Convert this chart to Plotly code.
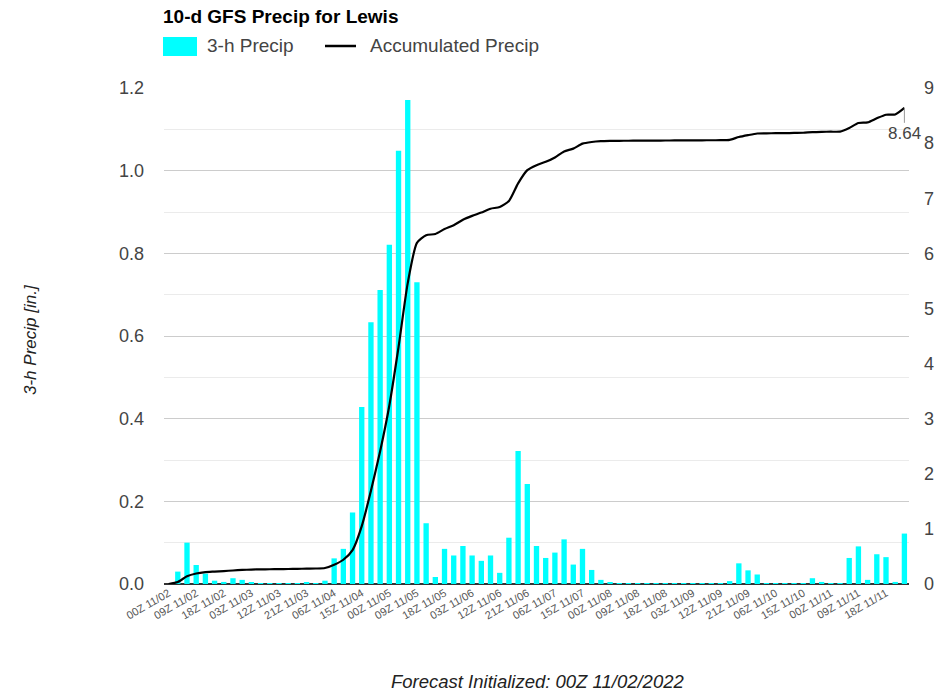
import plotly.graph_objects as go

# ---------------- data ----------------
CATEGORIES = [f"{(3 * k) % 24:02d}Z 11/{2 + (3 * k) // 24:02d}" for k in range(81)]

TICK_LABELS = ["00Z 11/02", "09Z 11/02", "18Z 11/02", "03Z 11/03", "12Z 11/03", "21Z 11/03",
               "06Z 11/04", "15Z 11/04", "00Z 11/05", "09Z 11/05", "18Z 11/05", "03Z 11/06",
               "12Z 11/06", "21Z 11/06", "06Z 11/07", "15Z 11/07", "00Z 11/08", "09Z 11/08",
               "18Z 11/08", "03Z 11/09", "12Z 11/09", "21Z 11/09", "06Z 11/10", "15Z 11/10",
               "00Z 11/11", "09Z 11/11", "18Z 11/11"]

PRECIP_3H = [0.000, 0.030, 0.100, 0.046, 0.025, 0.008, 0.005, 0.014, 0.010, 0.004,
             0.002, 0.001, 0.001, 0.001, 0.002, 0.004, 0.001, 0.008, 0.062, 0.085,
             0.173, 0.428, 0.633, 0.711, 0.821, 1.048, 1.171, 0.730, 0.147, 0.017,
             0.085, 0.069, 0.092, 0.069, 0.056, 0.069, 0.027, 0.112, 0.322, 0.242,
             0.092, 0.063, 0.076, 0.108, 0.047, 0.085, 0.034, 0.010, 0.004, 0.001,
             0.001, 0.001, 0.001, 0.001, 0.001, 0.001, 0.001, 0.001, 0.001, 0.001,
             0.001, 0.007, 0.050, 0.033, 0.023, 0.002, 0.001, 0.001, 0.001, 0.002,
             0.014, 0.005, 0.001, 0.001, 0.063, 0.091, 0.010, 0.072, 0.065, 0.005,
             0.122]

ACCUM_PRECIP = [0.000, 0.035, 0.140, 0.190, 0.215, 0.225, 0.235, 0.245, 0.255, 0.262,
                0.266, 0.268, 0.270, 0.272, 0.275, 0.279, 0.281, 0.290, 0.350, 0.440,
                0.615, 1.050, 1.690, 2.410, 3.240, 4.300, 5.460, 6.190, 6.330, 6.350,
                6.440, 6.510, 6.610, 6.680, 6.740, 6.810, 6.840, 6.950, 7.270, 7.510,
                7.600, 7.660, 7.740, 7.850, 7.900, 7.990, 8.020, 8.035, 8.040, 8.042,
                8.043, 8.044, 8.045, 8.046, 8.047, 8.048, 8.049, 8.050, 8.051, 8.052,
                8.053, 8.060, 8.110, 8.145, 8.175, 8.178, 8.180, 8.182, 8.184, 8.188,
                8.200, 8.205, 8.207, 8.209, 8.275, 8.365, 8.375, 8.450, 8.515, 8.520,
                8.640]

FINAL_LABEL = "8.64"

# ---------------- layout helpers ----------------
W, H = 941, 692
L, R, T, B = 164, 32, 88, 108
PW, PH = W - L - R, H - T - B
FONT = "Liberation Sans, Arial, sans-serif"
TXT = "#444444"


def px_x(px):
    return (px - L) / PW


def px_y(py):
    return (H - B - py) / PH


fig = go.Figure()
fig.add_trace(go.Bar(x=CATEGORIES, y=PRECIP_3H, name="3-h Precip",
                     marker=dict(color="#00FFFF", line=dict(width=0)),
                     yaxis="y", showlegend=False))
fig.add_trace(go.Scatter(x=CATEGORIES, y=ACCUM_PRECIP, name="Accumulated Precip",
                         mode="lines", line=dict(color="#000000", width=2.2, shape="spline", smoothing=0.6),
                         yaxis="y2", showlegend=False))

annotations = [
    # final value label
    dict(x=CATEGORIES[-1], y=ACCUM_PRECIP[-1], xref="x", yref="y2", text=FINAL_LABEL,
         showarrow=True, arrowhead=0, arrowwidth=1, arrowcolor="#999999", ax=0, ay=26,
         standoff=0, font=dict(family=FONT, size=17, color=TXT)),
    # legend texts
    dict(x=px_x(205), y=px_y(46), xref="paper", yref="paper", xanchor="left", yanchor="middle",
         text="3-h Precip", showarrow=False, font=dict(family=FONT, size=19, color=TXT)),
    dict(x=px_x(368), y=px_y(46), xref="paper", yref="paper", xanchor="left", yanchor="middle",
         text="Accumulated Precip", showarrow=False, font=dict(family=FONT, size=19, color=TXT)),
    # axis titles
    dict(x=px_x(30), y=px_y(340), xref="paper", yref="paper", xanchor="center", yanchor="middle",
         text="<i>3-h Precip [in.]</i>", textangle=-90, showarrow=False,
         font=dict(family=FONT, size=17, color="#222222")),
    dict(x=px_x(537), y=px_y(681), xref="paper", yref="paper", xanchor="center", yanchor="middle",
         text="<i>Forecast Initialized: 00Z 11/02/2022</i>", showarrow=False,
         font=dict(family=FONT, size=18.5, color="#222222")),
]

shapes = [
    dict(type="rect", xref="paper", yref="paper", x0=px_x(163), x1=px_x(197),
         y0=px_y(56), y1=px_y(37), fillcolor="#00FFFF", line=dict(width=0)),
    dict(type="line", xref="paper", yref="paper", x0=px_x(325), x1=px_x(356),
         y0=px_y(46), y1=px_y(46), line=dict(color="#000000", width=2.5)),
]

fig.update_layout(
    width=W, height=H,
    margin=dict(l=L, r=R, t=T, b=B, autoexpand=False),
    paper_bgcolor="white", plot_bgcolor="white",
    bargap=0.42,
    title=dict(text="<b>10-d GFS Precip for Lewis</b>", x=163 / W, xref="container", xanchor="left",
               y=1 - 16 / H, yref="container", yanchor="middle",
               font=dict(family=FONT, size=19, color="#000000")),
    xaxis=dict(type="category", categoryorder="array", categoryarray=CATEGORIES,
               tickmode="array", tickvals=TICK_LABELS, ticktext=TICK_LABELS,
               tickangle=-30, tickfont=dict(family=FONT, size=11, color="#555555"),
               showgrid=False, showline=False, ticks="", automargin=False,
               range=[-0.5, 80.5]),
    yaxis=dict(range=[0, 1.2], dtick=0.2, tickformat=".1f", showgrid=True, gridcolor="#cccccc",
               gridwidth=1, zeroline=True, zerolinecolor="#333333", zerolinewidth=1.5,
               minor=dict(dtick=0.1, showgrid=True, gridcolor="#ebebeb", gridwidth=1),
               tickfont=dict(family=FONT, size=18, color=TXT), ticks="", ticklabelstandoff=19,
               automargin=False, showline=False),
    yaxis2=dict(range=[0, 9], dtick=1, overlaying="y", side="right", showgrid=False,
                zeroline=False, tickfont=dict(family=FONT, size=18, color=TXT), ticks="",
                ticklabelstandoff=14, automargin=False, showline=False),
    annotations=annotations,
    shapes=shapes,
    showlegend=False,
)

fig.write_html("out.html", config={"displayModeBar": False},
               post_script="document.body.style.margin='0px';")
